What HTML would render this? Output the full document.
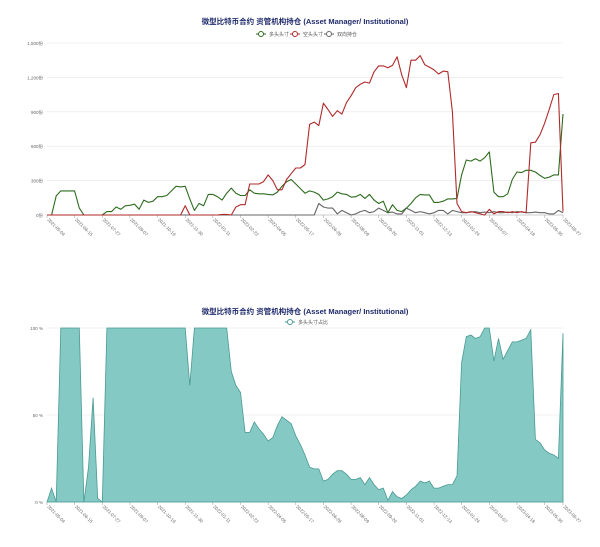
<!DOCTYPE html>
<html><head><meta charset="utf-8"><style>
body{margin:0;background:#fff;width:600px;height:547px;overflow:hidden;font-family:"Liberation Sans","Noto Sans CJK SC",sans-serif}
svg{position:absolute;left:0;top:0}
</style></head><body>
<svg id="c" width="600" height="547"></svg>
<script>
const tickLabels=["2021-05-04","2021-06-15","2021-07-27","2021-09-07","2021-10-19","2021-11-30","2022-01-11","2022-02-22","2022-04-05","2022-05-17","2022-06-28","2022-08-09","2022-09-20","2022-11-01","2022-12-13","2023-01-24","2023-03-07","2023-04-18","2023-05-30","2023-06-27"];
const tickIdx=[0,6,12,18,24,30,36,42,48,54,60,66,72,78,84,90,96,102,108,112];
const longVals=[0,0,167,210,210,210,210,60,0,0,0,0,0,30,30,70,50,80,85,95,50,130,110,120,160,160,170,210,250,245,250,140,40,100,80,180,180,160,130,190,235,190,170,170,220,190,185,185,180,175,200,250,290,310,270,230,190,210,200,180,130,140,160,200,185,180,155,160,180,145,180,130,100,120,20,90,40,30,60,100,150,180,175,175,110,110,120,140,140,145,350,480,470,490,470,500,550,200,160,160,185,310,375,370,390,390,375,345,320,330,350,350,880];
const shortVals=[0,0,0,0,0,0,0,0,0,0,0,0,0,0,0,0,0,0,0,0,0,0,0,0,0,0,0,0,0,0,80,0,0,0,0,0,0,0,5,5,0,70,90,90,270,270,270,290,350,300,220,220,310,360,410,410,440,790,810,780,975,920,860,910,880,980,1040,1110,1140,1160,1150,1250,1300,1300,1285,1305,1380,1220,1110,1350,1350,1390,1310,1290,1265,1230,1255,1250,900,100,30,20,30,20,10,0,50,10,30,30,20,30,20,30,20,630,635,700,800,920,1050,1060,30];
const spreadVals=[0,0,0,0,0,0,0,0,0,0,0,0,0,0,0,0,0,0,0,0,0,0,0,0,0,0,0,0,0,0,0,0,0,0,0,0,0,0,0,0,0,0,0,0,0,0,0,0,0,0,0,0,0,0,0,0,0,0,0,100,70,60,60,10,40,20,0,10,30,40,20,30,60,40,20,25,10,10,60,40,20,30,20,10,20,40,40,10,40,30,20,20,25,30,20,25,20,30,20,20,25,20,30,25,20,20,25,20,20,10,10,40,20];
const pctVals=[0,8,0,100,100,100,100,100,0,20,60,2,0,100,100,100,100,100,100,100,100,100,100,100,100,100,100,100,100,100,100,67,100,100,100,100,100,100,100,100,75,67,63,40,40,46,42,39,35,37,44,49,47,45,38,33,27,20,19,19,12,13,16,18,18,16,13,13,14,10,14,10,7,8,1,6,3,2,4,7,9,12,11,12,8,8,9,10,10,15,80,95,96,94,95,100,100,81,94,82,87,92,92,93,94,99,36,34,30,28,27,25,97];
const yTicks1=[0,300,600,900,1200,1500];
const yLabels1=["0份","300份","600份","900份","1,200份","1,500份"];
const yTicks2=[0,50,100];
const yLabels2=["0 %","50 %","100 %"];

const NS="http://www.w3.org/2000/svg";
const svg=document.getElementById('c');
function mk(t,a,p){const e=document.createElementNS(NS,t);for(const k in a)e.setAttribute(k,a[k]);(p||svg).appendChild(e);return e;}
const X0=47,X1=563,N=113;
const x=i=>X0+(X1-X0)*i/(N-1);
const y1=v=>215-(215-43)*v/1500;
const y2=v=>502-(502-328)*v/100;

function title(txt,yy,nm){const t=mk('text',{x:305,y:yy,'text-anchor':'middle','font-size':'7.5','font-weight':'bold',fill:'#1f2a6b'});t.textContent=txt;
}
title("微型比特币合约 资管机构持仓 (Asset Manager/ Institutional)",24,'top-chart-title');
title("微型比特币合约 资管机构持仓 (Asset Manager/ Institutional)",314,'bottom-chart-title');

function legend(lx,ly,col,txt,nm){const g=mk('g',{});

mk('line',{x1:lx,y1:ly,x2:lx+10,y2:ly,stroke:col,'stroke-width':1},g);
mk('circle',{cx:lx+5,cy:ly,r:2.5,fill:'#fff',stroke:col,'stroke-width':1},g);
const t=mk('text',{x:lx+13,y:ly+2,'font-size':'5',fill:'#555'},g);t.textContent=txt;}
legend(256,34,'#2e6b1f','多头头寸','legend-long');
legend(290,34,'#b02a2a','空头头寸','legend-short');
legend(324,34,'#666','双向持仓','legend-spread');
legend(285,322,'#4a9a94','多头头寸占比','legend-long-pct');

function axes(yt,yl,yf,pre){
yt.forEach((v,i)=>{const l=mk('line',{x1:X0,x2:X1,y1:yf(v),y2:yf(v),stroke:i===0?'#999':'#e6e6e6','stroke-width':0.6});

const t=mk('text',{x:X0-4,y:yf(v)+2,'text-anchor':'end','font-size':'4.5',fill:'#666'});t.textContent=yl[i];
});
const by=yf(0);
tickIdx.forEach((ix,i)=>{const xx=x(ix);mk('line',{x1:xx,x2:xx,y1:by,y2:by+3,stroke:'#999','stroke-width':0.5});
const t=mk('text',{x:xx,y:by+5,'font-size':'4.5',fill:'#666',transform:`rotate(45 ${xx} ${by+5})`});t.textContent=tickLabels[i];
});}
axes(yTicks1,yLabels1,y1,'top');
axes(yTicks2,yLabels2,y2,'bottom');

function line(vals,col,nm){const d=vals.map((v,i)=>(i?'L':'M')+x(i).toFixed(1)+','+y1(v).toFixed(1)).join('');
const p=mk('path',{d,fill:'none',stroke:col,'stroke-width':1.1,'stroke-linejoin':'round'});
}
line(spreadVals,'#666','spread-line');
line(longVals,'#2e6b1f','long-line');
line(shortVals,'#b02a2a','short-line');

const ad='M'+x(0)+','+y2(0)+pctVals.map((v,i)=>'L'+x(i).toFixed(1)+','+y2(v).toFixed(1)).join('')+'L'+x(N-1)+','+y2(0)+'Z';
const a=mk('path',{d:ad,fill:'#84c9c4',stroke:'#4a9a94','stroke-width':0.8});

</script>
</body></html>
